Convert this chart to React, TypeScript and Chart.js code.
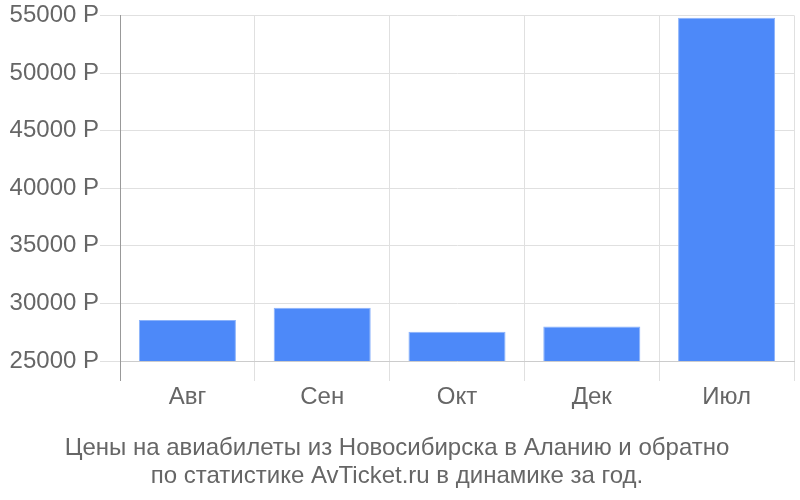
import { useEffect, useRef } from 'react'
import { Chart, registerables } from 'chart.js'

Chart.register(...registerables)

const months = ['Авг', 'Сен', 'Окт', 'Дек', 'Июл']
const prices = [28550, 29620, 27540, 28000, 54800]
const titleLines = [
  'Цены на авиабилеты из Новосибирска в Аланию и обратно',
  'по статистике AvTicket.ru в динамике за год.',
]

const textColor = '#666'
const fontFamily = '"Liberation Sans", Arial, sans-serif'

function PriceChart() {
  const chartRef = useRef<HTMLCanvasElement | null>(null)

  useEffect(() => {
    document.body.style.margin = '0'

    const myChart = new Chart(chartRef.current!, {
      type: 'bar',
      data: {
        labels: months,
        datasets: [
          {
            label: 'Цена',
            data: prices,
            backgroundColor: '#4d89f9',
            borderColor: '#8ab2fb',
            borderWidth: 1,
          },
        ],
      },
      options: {
        animation: false,
        responsive: false,
        layout: { padding: { top: 14, right: 6, left: 0, bottom: 0 } },
        plugins: {
          legend: { display: false },
          tooltip: { enabled: false },
          title: {
            display: true,
            position: 'bottom',
            text: titleLines,
            color: textColor,
            font: { family: fontFamily, size: 24, weight: 'normal', lineHeight: 28 / 24 },
            padding: { top: 12, bottom: 10 },
          },
        },
        scales: {
          x: {
            grid: {
              color: (ctx) => (ctx.index === 0 ? '#999' : '#e0e0e0'),
              tickLength: 20,
            },
            border: { color: '#ccc' },
            ticks: {
              color: textColor,
              padding: 2,
              font: { family: fontFamily, size: 24 },
            },
            afterFit: (scale) => {
              scale.height = 61
            },
          },
          y: {
            min: 25000,
            max: 55000,
            grid: { color: '#e0e0e0', tickLength: 20 },
            border: { color: '#999' },
            ticks: {
              stepSize: 5000,
              color: textColor,
              padding: 1,
              font: { family: fontFamily, size: 24 },
              callback: (value) => `${value} Р`,
            },
            afterFit: (scale) => {
              scale.width = 120
            },
          },
        },
      },
    })

    return () => {
      myChart.destroy()
    }
  }, [])

  return (
    <div style={{ width: 800, height: 500 }}>
      <canvas ref={chartRef} width={800} height={500} />
    </div>
  )
}

export default function App() {
  return <PriceChart />
}
